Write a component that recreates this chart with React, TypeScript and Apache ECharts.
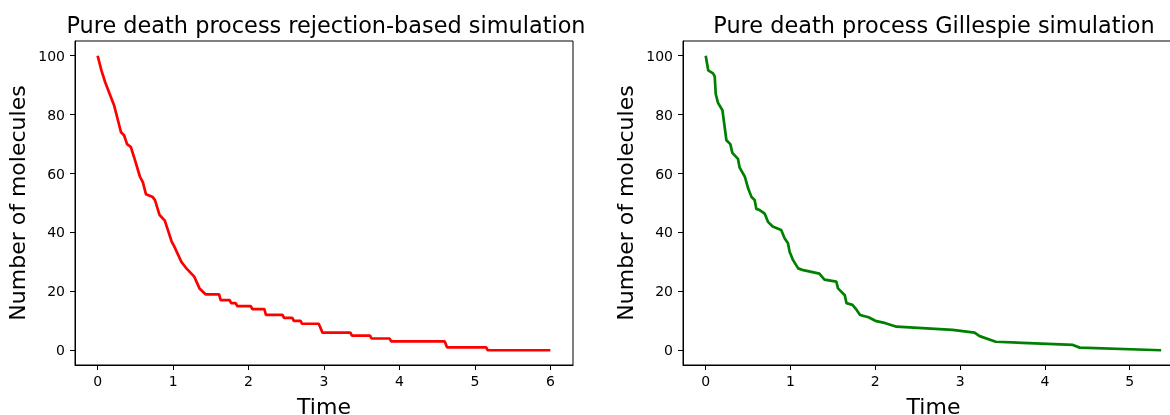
import React, { useEffect, useRef } from "react";
import * as echarts from "echarts";

const titles = ["Pure death process rejection-based simulation", "Pure death process Gillespie simulation"];
const xLabel = "Time";
const yLabel = "Number of molecules";
const yTicks = [0, 20, 40, 60, 80, 100];
const xTicksLeft = [0, 1, 2, 3, 4, 5, 6];
const xTicksRight = [0, 1, 2, 3, 4, 5];

const rejectionT = [0, 0.05, 0.1, 0.16, 0.22, 0.27, 0.31, 0.35, 0.39, 0.44, 0.49, 0.56, 0.6, 0.64, 0.73, 0.76, 0.82, 0.89, 0.98, 1.02, 1.11, 1.17, 1.28, 1.35, 1.43, 1.61, 1.63, 1.75, 1.77, 1.83, 1.85, 2.03, 2.05, 2.21, 2.23, 2.45, 2.47, 2.58, 2.6, 2.69, 2.71, 2.93, 2.98, 3.35, 3.37, 3.61, 3.63, 3.87, 3.89, 4.6, 4.63, 5.15, 5.17, 6.0];
const rejectionN = [100, 95, 91, 87, 83, 78, 74, 73, 70, 69, 65, 59, 57, 53, 52, 51, 46, 44, 37, 35, 30, 28, 25, 21, 19, 19, 17, 17, 16, 16, 15, 15, 14, 14, 12, 12, 11, 11, 10, 10, 9, 9, 6, 6, 5, 5, 4, 4, 3, 3, 1, 1, 0, 0];

const gillespieT = [0, 0.03, 0.086, 0.106, 0.118, 0.145, 0.197, 0.244, 0.29, 0.314, 0.38, 0.4, 0.46, 0.5, 0.54, 0.577, 0.597, 0.636, 0.695, 0.734, 0.79, 0.89, 0.93, 0.97, 0.99, 1.03, 1.09, 1.15, 1.34, 1.4, 1.54, 1.56, 1.64, 1.66, 1.73, 1.78, 1.82, 1.92, 2.0, 2.12, 2.25, 2.91, 3.17, 3.23, 3.42, 4.33, 4.41, 5.37];
const gillespieN = [100, 95, 94, 93, 87, 84, 81.5, 71.3, 70, 67, 65, 62, 59, 55, 52, 51, 48, 47.6, 46.4, 43.6, 42, 40.8, 38, 36.3, 33.4, 30.6, 27.8, 27.2, 26, 24, 23.3, 21, 18.7, 16, 15.4, 13.7, 12, 11.2, 10, 9.2, 8, 6.9, 6, 4.8, 2.9, 1.8, 0.9, 0];

const FONT = "DejaVu Sans";

export default function App() {
  const ref = useRef<HTMLDivElement>(null);
  useEffect(() => {
    if (!ref.current) return;
    const chart = echarts.init(ref.current, undefined, { renderer: "svg" });
    const grids = [
      { left: 75, top: 41, width: 498, height: 324 },
      { left: 683, top: 41, width: 501, height: 324 },
    ];
    const xAxisCommon = (i: number, min: number, max: number, ticks: number[]) => ({
      type: "value",
      gridIndex: i,
      min,
      max,
      name: xLabel,
      nameLocation: "middle",
      nameGap: 30,
      nameTextStyle: { fontFamily: FONT, fontSize: 22, color: "#000" },
      splitLine: { show: false },
      axisLine: { show: true, onZero: false, lineStyle: { color: "#000", width: 1 } },
      axisTick: { show: true, inside: false, length: 5, customValues: ticks, lineStyle: { color: "#000" } },
      axisLabel: { customValues: ticks, fontFamily: FONT, fontSize: 14, color: "#000", margin: 9 },
    });
    const yAxisCommon = (i: number) => ({
      type: "value",
      gridIndex: i,
      min: -5,
      max: 105,
      name: yLabel,
      nameLocation: "middle",
      nameGap: 47,
      nameTextStyle: { fontFamily: FONT, fontSize: 22, color: "#000" },
      splitLine: { show: false },
      axisLine: { show: true, onZero: false, lineStyle: { color: "#000", width: 1 } },
      axisTick: { show: true, inside: false, length: 5, customValues: yTicks, lineStyle: { color: "#000" } },
      axisLabel: { customValues: yTicks, fontFamily: FONT, fontSize: 14, color: "#000", margin: 10 },
    });
    chart.setOption({
      animation: false,
      title: [
        { text: titles[0], left: 321, top: 9, textAlign: "center", textStyle: { fontFamily: FONT, fontSize: 22.4, fontWeight: "normal", color: "#000" } },
        { text: titles[1], left: 929, top: 9, textAlign: "center", textStyle: { fontFamily: FONT, fontSize: 22.4, fontWeight: "normal", color: "#000" } },
      ],
      grid: grids.map((g) => ({ ...g, show: true, borderColor: "#000", borderWidth: 1, backgroundColor: "transparent", outerBoundsMode: "none", containLabel: false })),
      xAxis: [xAxisCommon(0, -0.3, 6.3, xTicksLeft), xAxisCommon(1, -0.268, 5.64, xTicksRight)],
      yAxis: [yAxisCommon(0), yAxisCommon(1)],
      series: [
        {
          type: "line",
          xAxisIndex: 0,
          yAxisIndex: 0,
          data: rejectionT.map((t, i) => [t, rejectionN[i]]),
          showSymbol: false,
          lineStyle: { color: "#ff0000", width: 2.7 },
        },
        {
          type: "line",
          xAxisIndex: 1,
          yAxisIndex: 1,
          data: gillespieT.map((t, i) => [t, gillespieN[i]]),
          showSymbol: false,
          lineStyle: { color: "#008000", width: 2.7 },
        },
      ],
    });
    return () => chart.dispose();
  }, []);
  return (
    <div style={{ position: "fixed", left: 0, top: 0, width: 1170, height: 415, overflow: "hidden" }}>
      <div ref={ref} style={{ width: 1200, height: 415 }} />
    </div>
  );
}
